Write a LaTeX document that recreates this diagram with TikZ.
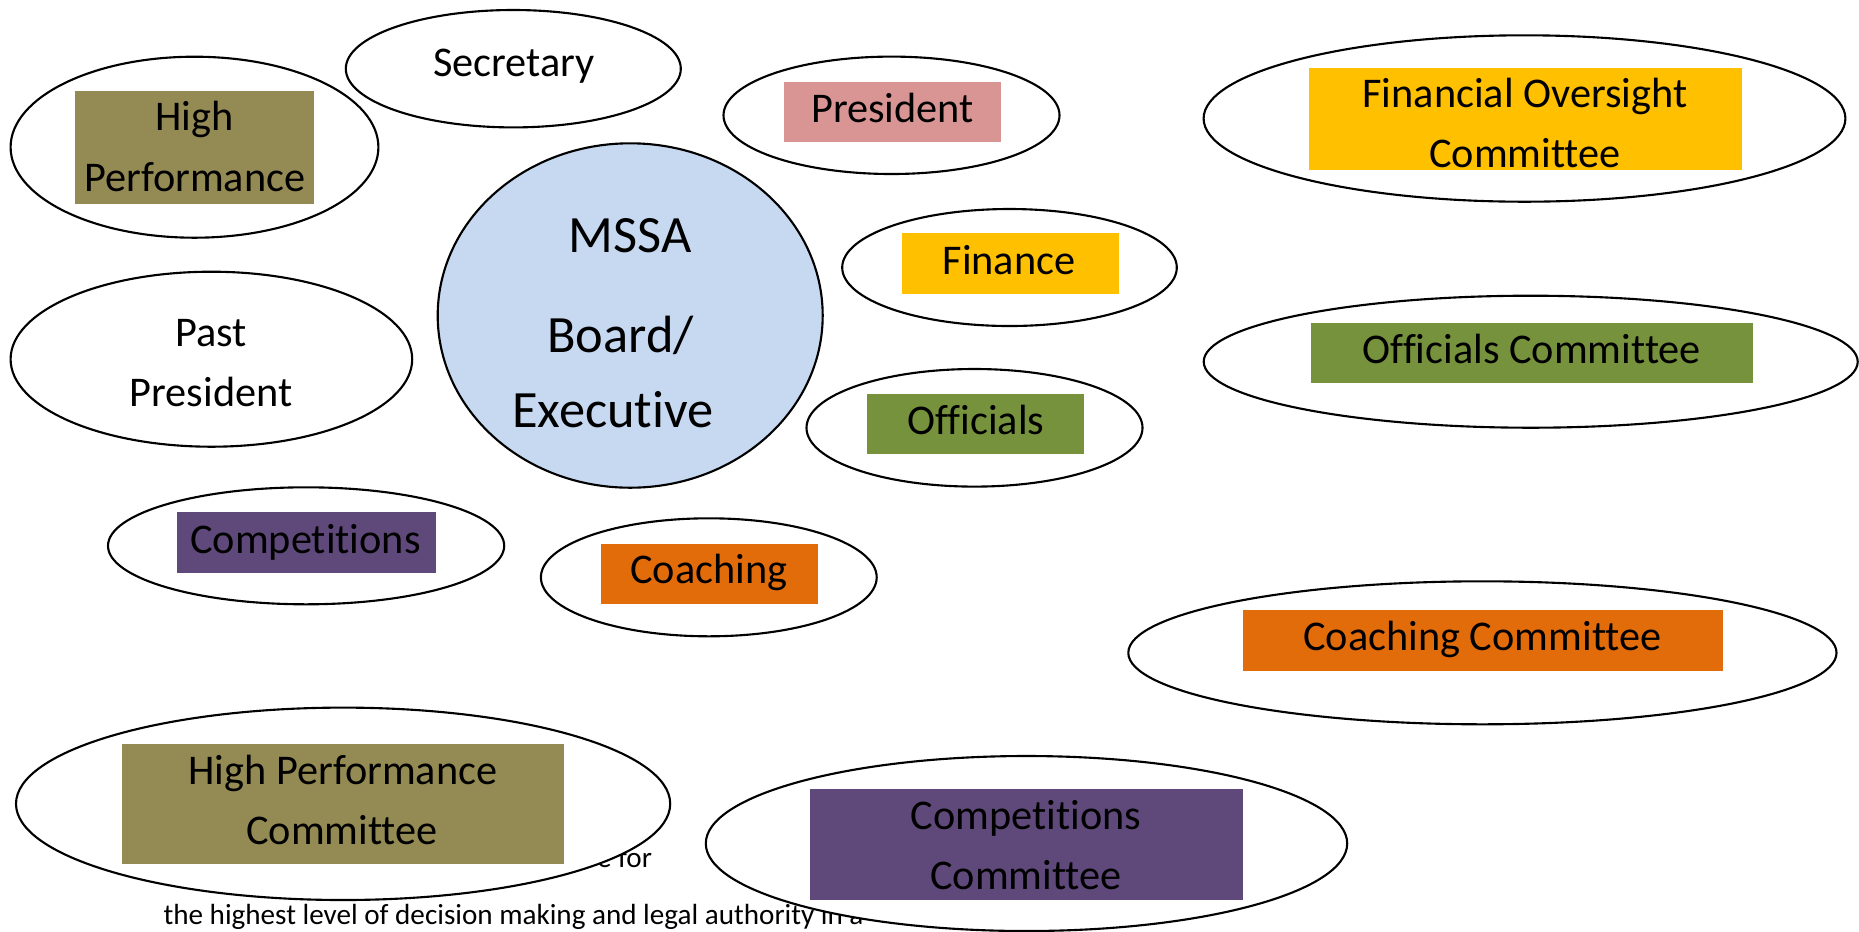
\documentclass[tikz,border=0pt]{standalone}
\usepackage{fontspec}
\setmainfont{Carlito}[Ligatures=NoCommon]
\usetikzlibrary{shapes.geometric}
\def\upx{0.4255pt}
\definecolor{hpol}{HTML}{948A54}
\definecolor{prpink}{HTML}{D99594}
\definecolor{finy}{HTML}{FFC000}
\definecolor{offg}{HTML}{76923C}
\definecolor{compp}{HTML}{5F497A}
\definecolor{coacho}{HTML}{E36C0A}
\definecolor{mssab}{HTML}{C6D9F1}
\begin{document}
\begin{tikzpicture}[x=0.4255pt, y=-0.4255pt,
 bubble/.style 2 args={ellipse, draw=black, line width=0.9pt, fill=white, inner sep=0pt, outer sep=0pt, minimum width={#1*\upx}, minimum height={#2*\upx}},
 tagbox/.style 2 args={rectangle, inner sep=0pt, outer sep=0pt, minimum width={#1*\upx}, minimum height={#2*\upx}},
 lbl/.style={anchor=base, inner sep=0pt, font=\fontsize{18}{25}\selectfont},
 big/.style={anchor=base, inner sep=0pt, font=\fontsize{22.3}{27}\selectfont},
 body/.style={inner sep=0pt, font=\fontsize{12.4}{15}\selectfont}]
\useasboundingbox (0,0) rectangle (1859,931);

% body text lying behind the bubbles
\node[body, anchor=base east] (frag1) at (652.4,867.7) {e for};
\node[body, anchor=base west] (frag2) at (163.1,924.3) {the highest level of decision making and legal authority in a};

% bubbles
\node[bubble={367.8}{181}] (hp) at (194.5,147.2) {};
\node[bubble={335}{117.4}] (sec) at (513.3,68.7) {};
\node[bubble={336}{117.4}] (pres) at (891.5,115.3) {};
\node[bubble={385}{344.4}, fill=mssab] (mssa) at (630.2,315.5) {};
\node[bubble={401.6}{175}] (past) at (211.4,359.2) {};
\node[bubble={334.6}{117}] (fin) at (1009.5,267.5) {};
\node[bubble={336}{117.6}] (off) at (974.5,427.8) {};
\node[bubble={641.8}{166.4}] (foc) at (1524.5,118.5) {};
\node[bubble={654}{132}] (offc) at (1530.7,361.7) {};
\node[bubble={396.2}{117}] (comp) at (306.1,545.8) {};
\node[bubble={335.8}{118}] (coach) at (708.8,577.3) {};
\node[bubble={654.2}{192.4}] (hpc) at (343.1,803.8) {};
\node[bubble={641.4}{175}] (compc) at (1026.5,843.5) {};
\node[bubble={708.2}{143}] (coachc) at (1482.4,652.8) {};

% coloured label boxes
\node[tagbox={239.7}{112.7}, fill=hpol] (hpbox) at (194.55,147.35) {};
\node[tagbox={216.7}{59.7}, fill=prpink] (presbox) at (892.45,111.85) {};
\node[tagbox={216.7}{60.7}, fill=finy] (finbox) at (1010.45,263.35) {};
\node[tagbox={216.7}{59.7}, fill=offg] (offbox) at (975.45,423.85) {};
\node[tagbox={432.4}{101.7}, fill=finy] (focbox) at (1525.4,118.85) {};
\node[tagbox={442.4}{59.7}, fill=offg] (offcbox) at (1532.2,352.85) {};
\node[tagbox={259.2}{60.7}, fill=compp] (compbox) at (306.3,542.35) {};
\node[tagbox={217.1}{59.7}, fill=coacho] (coachbox) at (709.35,573.85) {};
\node[tagbox={441.3}{119.7}, fill=hpol] (hpcbox) at (342.85,803.85) {};
\node[tagbox={433.2}{110.7}, fill=compp] (compcbox) at (1026.8,844.35) {};
\node[tagbox={479.8}{60.7}, fill=coacho] (coachcbox) at (1482.7,640.35) {};

% texts
\node[lbl] (t-hp1) at (194.7,130.7) {High};
\node[lbl] (t-hp2) at (194.7,191.7) {Performance};
\node[lbl] (t-sec) at (514,76) {Secretary};
\node[lbl] (t-pres) at (892.5,122.7) {President};
\node[big] (t-m1) at (630,252.3) {MSSA};
\node[big] (t-m2) at (620.5,352.7) {Board/};
\node[big] (t-m3) at (612.9,427.7) {Executive};
\node[lbl] (t-past1) at (211,346.7) {Past};
\node[lbl] (t-past2) at (211,406) {President};
\node[lbl] (t-fin) at (1009,274) {Finance};
\node[lbl] (t-off) at (975.8,434) {Officials};
\node[lbl] (t-foc1) at (1525,107.3) {Financial Oversight};
\node[lbl] (t-foc2) at (1525,167.7) {Committee};
\node[lbl] (t-offc) at (1531.7,363.3) {Officials Committee};
\node[lbl] (t-comp) at (305.5,553.3) {Competitions};
\node[lbl] (t-coach) at (708.8,583.3) {Coaching};
\node[lbl] (t-hpc1) at (342.8,784.3) {High Performance};
\node[lbl] (t-hpc2) at (342,844) {Committee};
\node[lbl] (t-compc1) at (1026,829) {Competitions};
\node[lbl] (t-compc2) at (1026,889) {Committee};
\node[lbl] (t-coachc) at (1482.4,650.7) {Coaching Committee};
\end{tikzpicture}
\end{document}
